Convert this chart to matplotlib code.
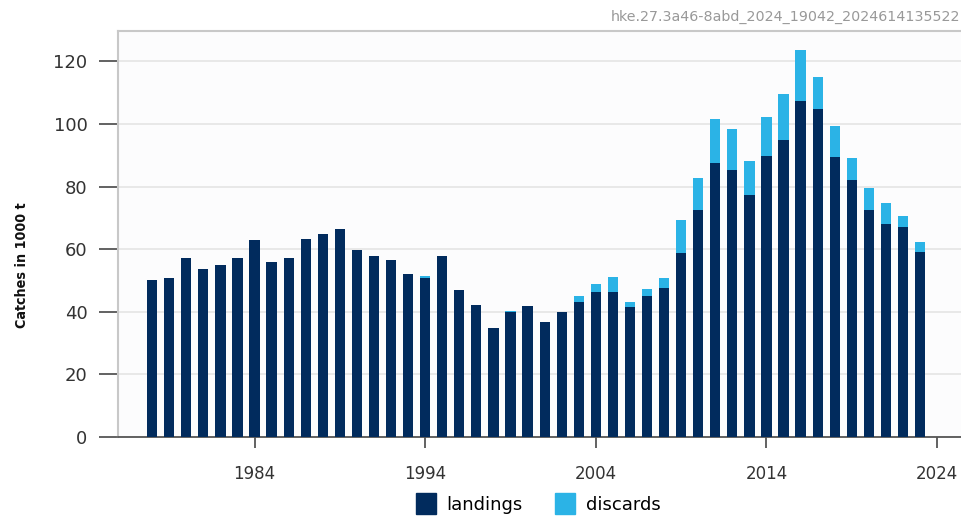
import numpy as np
import matplotlib.pyplot as plt
from matplotlib.patches import Patch

years = np.arange(1978, 2024)
landings = [50.3, 50.9, 57.1, 53.7, 54.8, 57.3, 63.0, 56.0, 57.1, 63.3,
            64.7, 66.3, 59.7, 57.8, 56.4, 52.2, 50.9, 57.7, 47.1, 42.2,
            34.9, 39.8, 42.0, 36.6, 40.0, 43.1, 46.3, 46.3, 41.5, 45.0,
            47.6, 58.7, 72.6, 87.4, 85.4, 77.2, 89.9, 94.9, 107.5, 104.9,
            89.6, 82.1, 72.4, 68.1, 67.0, 59.1]
discards = [0, 0, 0, 0, 0, 0, 0, 0, 0, 0,
            0, 0, 0, 0, 0, 0, 0.5, 0, 0, 0,
            0, 0.3, 0, 0, 0, 1.9, 2.7, 4.7, 1.6, 2.3,
            3.3, 10.6, 10.2, 14.1, 12.9, 10.9, 12.2, 14.6, 16.2, 10.1,
            9.9, 7.1, 7.1, 6.5, 3.5, 3.3]

navy = '#012b5d'
sky = '#2bb3e6'

fig = plt.figure(figsize=(9.61, 5.17), dpi=100)
fig.patch.set_facecolor('white')
ax = fig.add_axes([0.1228, 0.1547, 0.8772, 0.7853])
ax.set_facecolor('#fcfcfd')

ax.bar(years, landings, width=0.6, color=navy, zorder=3)
ax.bar(years, discards, width=0.6, bottom=landings, color=sky, zorder=3)

ax.set_xlim(1976, 2025.4)
ax.set_ylim(0, 129.7)
ax.set_yticks(np.arange(0, 121, 20))
ax.set_xticks([1984, 1994, 2004, 2014, 2024])
ax.grid(axis='y', color='#e4e4e4', linewidth=1.2, zorder=0)

for s in ['top', 'left']:
    ax.spines[s].set_color('#c8c8c8')
    ax.spines[s].set_linewidth(1.5)
ax.spines['right'].set_visible(False)
ax.spines['bottom'].set_color('#555555')
ax.spines['bottom'].set_linewidth(1.3)

ax.tick_params(axis='y', length=14, width=1.3, color='#555555', labelsize=13,
               labelcolor='#333333', pad=8)
ax.tick_params(axis='x', length=8, width=1.3, color='#555555', labelsize=12,
               labelcolor='#333333', pad=12)

ax.set_ylabel('Catches in 1000 t', fontsize=10.3, fontweight='bold', color='#111111',
              fontstretch='condensed')
ax.yaxis.set_label_coords(-0.106, 0.424)

fig.text(0.999, 0.967, 'hke.27.3a46-8abd_2024_19042_2024614135522', ha='right',
         va='center', fontsize=10.3, color='#999999')

handles = [Patch(color=navy, label='landings'), Patch(color=sky, label='discards')]
fig.legend(handles=handles, loc='lower center', bbox_to_anchor=(0.56, -0.026),
           ncol=2, frameon=False, fontsize=13, handlelength=1.1, handleheight=1.4,
           columnspacing=1.8, handletextpad=0.6)

fig.savefig('out.png', dpi=100)
